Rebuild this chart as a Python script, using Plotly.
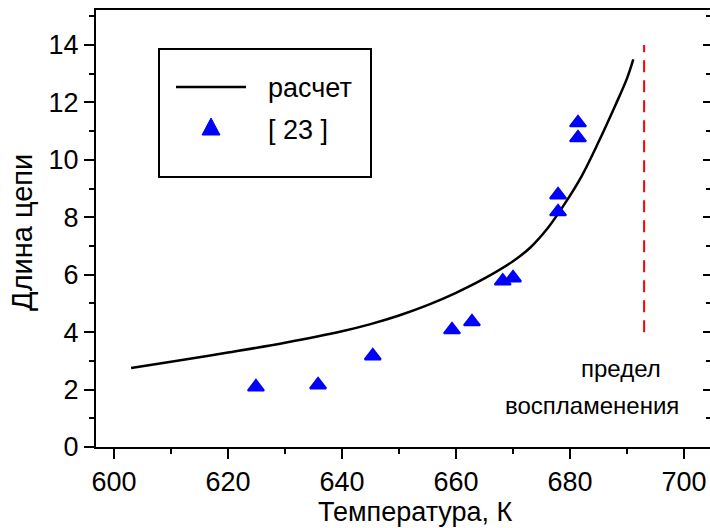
import plotly.graph_objects as go

# ---- data ----
calc_T = [603, 610, 620, 630, 640, 645, 650, 655, 660, 665, 670, 673, 676,
          679, 682, 685, 688, 690, 691.1]
calc_L = [2.75, 2.97, 3.29, 3.63, 4.03, 4.28, 4.58, 4.94, 5.37, 5.87, 6.47,
          6.94, 7.6, 8.45, 9.42, 10.62, 11.92, 12.84, 13.5]

exp_T = [624.9, 635.8, 645.4, 659.3, 662.8, 668.2, 670.0, 677.9, 677.9, 681.4, 681.4]
exp_L = [2.09, 2.16, 3.17, 4.08, 4.36, 5.78, 5.89, 8.19, 8.78, 10.77, 11.29]

limit_T = [693, 693]
limit_L = [4, 14]

x_ticks = [600, 620, 640, 660, 680, 700]
y_ticks = [0, 2, 4, 6, 8, 10, 12, 14]

W, H = 710, 528
ML, MR, MT, MB = 96, 0, 10, 81
PW, PH = W - ML - MR, H - MT - MB

def px(x):
    return (x - ML) / PW

def py(y):
    return (H - MB - y) / PH

FONT = "Liberation Sans, Arial, sans-serif"

fig = go.Figure()
fig.add_trace(go.Scatter(x=calc_T, y=calc_L, mode="lines", name="расчет",
                         line=dict(color="black", width=2.5, shape="spline", smoothing=1),
                         showlegend=False))
fig.add_trace(go.Scatter(x=exp_T, y=exp_L, mode="markers", name="[ 23 ]",
                         marker=dict(symbol="triangle-up", size=14, color="#0000ff",
                                     line=dict(color="#0000ff", width=2)),
                         showlegend=False))
fig.add_trace(go.Scatter(x=limit_T, y=limit_L, mode="lines", showlegend=False,
                         line=dict(color="#ff0000", width=2, dash="12px,8px")))
# right-side inner ticks
fig.add_trace(go.Scatter(x=[None], y=[None], yaxis="y2", showlegend=False))

fig.update_layout(
    width=W, height=H,
    margin=dict(l=ML, r=MR, t=MT, b=MB),
    paper_bgcolor="white", plot_bgcolor="white",
    font=dict(family=FONT, size=27, color="black"),
    xaxis=dict(range=[596.84, 704.56], tickvals=x_ticks, ticks="outside",
               ticklen=10, tickwidth=2, tickcolor="black",
               showline=True, linewidth=2, linecolor="black", mirror=True,
               showgrid=False, zeroline=False,
               minor=dict(dtick=10, tick0=0, ticks="outside", ticklen=5,
                          tickwidth=2, tickcolor="black", showgrid=False),
               tickfont=dict(size=27)),
    yaxis=dict(range=[0, 15.22], tickvals=y_ticks, ticks="outside",
               ticklen=10, tickwidth=2, tickcolor="black",
               showline=True, linewidth=2, linecolor="black",
               showgrid=False, zeroline=False,
               minor=dict(dtick=1, tick0=0, ticks="outside", ticklen=5,
                          tickwidth=2, tickcolor="black", showgrid=False),
               tickfont=dict(size=27)),
    yaxis2=dict(range=[0, 15.22], overlaying="y", side="right",
                tickvals=y_ticks, ticks="inside", ticklen=7, tickwidth=2,
                tickcolor="black", showticklabels=False, showline=False,
                showgrid=False, zeroline=False,
                minor=dict(dtick=1, tick0=0, ticks="inside", ticklen=4,
                           tickwidth=2, tickcolor="black", showgrid=False)),
)

# legend box (drawn by hand)
fig.add_shape(type="rect", xref="paper", yref="paper",
              x0=px(159), x1=px(371), y0=py(177), y1=py(49),
              line=dict(color="black", width=2), fillcolor="white", layer="below")
fig.add_shape(type="line", xref="paper", yref="paper",
              x0=px(176), x1=px(246), y0=py(87), y1=py(87),
              line=dict(color="black", width=2.5))
fig.add_shape(type="path", xref="paper", yref="paper",
              path=f"M {px(202)} {py(135)} L {px(220)} {py(135)} L {px(211)} {py(118)} Z",
              fillcolor="#0000ff", line=dict(color="#0000ff", width=1))
fig.add_annotation(xref="paper", yref="paper", x=px(266), y=py(88),
                   text="расчет", showarrow=False, xanchor="left", yanchor="middle",
                   font=dict(size=27))
fig.add_annotation(xref="paper", yref="paper", x=px(266), y=py(130),
                   text="[ 23 ]", showarrow=False, xanchor="left", yanchor="middle",
                   font=dict(size=27))

# axis titles
fig.add_annotation(xref="paper", yref="paper", x=px(415), y=py(512),
                   text="Температура, К", showarrow=False, xanchor="center",
                   yanchor="middle", font=dict(size=27))
fig.add_annotation(xref="paper", yref="paper", x=px(22), y=py(233),
                   text="Длина цепи", showarrow=False, textangle=-90,
                   xanchor="center", yanchor="middle", font=dict(size=29))

# ignition limit label
fig.add_annotation(xref="paper", yref="paper", x=px(621), y=py(368),
                   text="предел", showarrow=False, xanchor="center",
                   yanchor="middle", font=dict(size=24))
fig.add_annotation(xref="paper", yref="paper", x=px(592), y=py(405),
                   text="воспламенения", showarrow=False, xanchor="center",
                   yanchor="middle", font=dict(size=24))

fig.write_html("out.html")
